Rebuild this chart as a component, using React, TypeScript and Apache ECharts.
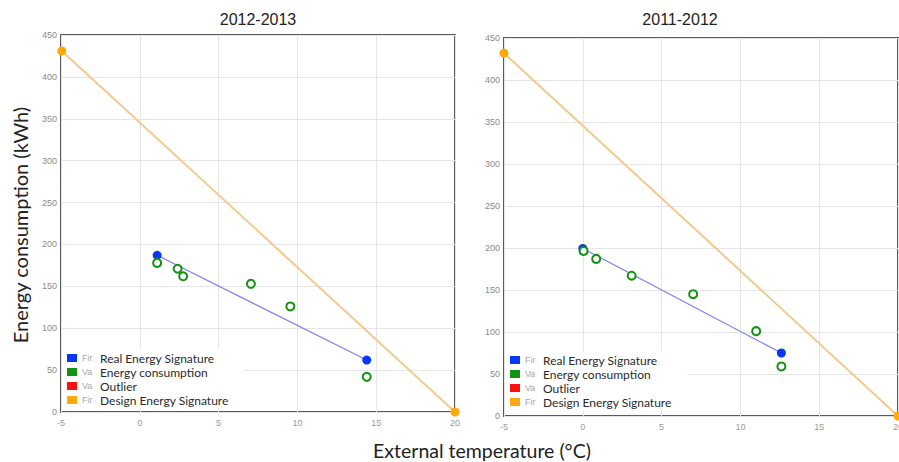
import React, { useEffect, useRef } from "react";
import * as echarts from "echarts";

const xTicks = [-5, 0, 5, 10, 15, 20];
const titles = ["2012-2013", "2011-2012"];
const seriesNames = ["Real Energy Signature", "Energy consumption", "Outlier", "Design Energy Signature"];
const legendStubs = ["Fir", "Va", "Va", "Fir"];

// 2012-2013
const realSig1: [number, number][] = [[1.1, 187], [14.4, 62]];
const consumption1: [number, number][] = [[1.1, 178], [2.4, 171], [2.75, 162], [7.05, 153], [9.55, 126], [14.4, 42]];
const designSig1: [number, number][] = [[-4.95, 431], [20, 0]];

// 2011-2012
const realSig2: [number, number][] = [[0.0, 199.5], [12.6, 75]];
const consumption2: [number, number][] = [[0.05, 196.5], [0.85, 187], [3.1, 167], [7.0, 145], [11.0, 101], [12.6, 59]];
const designSig2: [number, number][] = [[-5, 432], [20, 0]];

const outlier1: [number, number][] = [];
const outlier2: [number, number][] = [];

const colors = ["#0a36f5", "#129112", "#ff1010", "#ffa90a"];

export default function App() {
  const ref = useRef<HTMLDivElement>(null);
  useEffect(() => {
    if (!ref.current) return;
    const chart = echarts.init(ref.current, null, { renderer: "svg" });
    const grids = [
      { left: 61, top: 35, width: 394, height: 377 },
      { left: 504, top: 38, width: 394, height: 378 },
    ];
    const xAxis = grids.map((_, i) => ({
      type: "value",
      gridIndex: i,
      min: xTicks[0],
      max: xTicks[xTicks.length - 1],
      interval: 5,
      axisLine: { show: false },
      axisTick: { show: false },
      splitLine: { show: true, lineStyle: { color: "#e6e6e6", width: 1 } },
      axisLabel: { fontSize: 9, color: "#9a9a9a", margin: 6, fontFamily: "Liberation Sans", hideOverlap: false },
    }));
    const yAxis = grids.map((_, i) => ({
      type: "value",
      gridIndex: i,
      min: 0,
      max: 450,
      interval: 50,
      axisLine: { show: false },
      axisTick: { show: false },
      splitLine: { show: true, lineStyle: { color: "#e6e6e6", width: 1 } },
      axisLabel: { fontSize: 9, color: "#8a8a8a", margin: 4, fontFamily: "Liberation Sans" },
    }));
    const data = [
      [realSig1, consumption1, outlier1, designSig1],
      [realSig2, consumption2, outlier2, designSig2],
    ];
    const series: any[] = [];
    data.forEach((d, i) => {
      series.push({
        name: seriesNames[3],
        type: "line",
        xAxisIndex: i,
        yAxisIndex: i,
        data: d[3],
        symbol: "circle",
        symbolSize: 9,
        color: colors[3],
        lineStyle: { color: "#f2c98e", width: 2 },
        itemStyle: { color: colors[3] },
        z: 2,
      });
      series.push({
        name: seriesNames[0],
        type: "line",
        xAxisIndex: i,
        yAxisIndex: i,
        data: d[0],
        symbol: "circle",
        symbolSize: 9,
        color: colors[0],
        lineStyle: { color: "#8080f0", width: 1.2 },
        itemStyle: { color: colors[0] },
        z: 3,
      });
      series.push({
        name: seriesNames[1],
        type: "scatter",
        xAxisIndex: i,
        yAxisIndex: i,
        data: d[1],
        symbol: "emptyCircle",
        symbolSize: 8,
        color: colors[1],
        itemStyle: { color: colors[1], borderWidth: 2, borderColor: colors[1], opacity: 1 },
        z: 4,
      });
      series.push({
        name: seriesNames[2],
        type: "scatter",
        xAxisIndex: i,
        yAxisIndex: i,
        data: d[2],
        color: colors[2],
        itemStyle: { color: colors[2], opacity: 1 },
      });
    });
    const legendData = seriesNames.map((n, k) => ({ name: n, itemStyle: { color: colors[k], borderWidth: 0, opacity: 1 } }));
    const mkLegend = (left: number, top: number, width: number) => ({
      orient: "vertical",
      left,
      top,
      width,
      data: legendData,
      icon: "rect",
      itemWidth: 10,
      itemHeight: 8,
      itemGap: 2,
      padding: [3, 16, 2, 4],
      backgroundColor: "#ffffff",
      selectedMode: false,
      formatter: (name: string) => {
        const k = seriesNames.indexOf(name);
        return "{s|" + legendStubs[k] + "}{t|" + name + "}";
      },
      textStyle: {
        rich: {
          s: { fontSize: 9, color: "#a8a8a8", width: 18, fontFamily: "Liberation Sans", lineHeight: 13 },
          t: { fontSize: 12, color: "#2a2a2a", fontFamily: "Lato", lineHeight: 13 },
        },
      },
    });
    chart.setOption({
      animation: false,
      backgroundColor: "#ffffff",
      grid: grids.map((g) => ({
        ...g,
        show: true,
        borderColor: "#5a5a5a",
        borderWidth: 2,
        backgroundColor: "transparent",
        containLabel: false,
        outerBoundsMode: "none",
      })),
      xAxis,
      yAxis,
      series,
      legend: [mkLegend(63, 349, 170), mkLegend(506, 351, 175)],
      graphic: [
        { type: "text", x: 258, y: 11, style: { text: titles[0], fontSize: 16, fill: "#222", fontFamily: "Liberation Sans", textAlign: "center" } },
        { type: "text", x: 680, y: 11, style: { text: titles[1], fontSize: 16, fill: "#222", fontFamily: "Liberation Sans", textAlign: "center" } },
        {
          type: "text",
          x: 20,
          y: 225,
          rotation: Math.PI / 2,
          style: { text: "Energy consumption (kWh)", fontSize: 20, fill: "#222", fontFamily: "Lato", textAlign: "center", textVerticalAlign: "middle" },
        },
        {
          type: "text",
          x: 482,
          y: 450,
          style: { text: "External temperature (°C)", fontSize: 19.5, fill: "#222", fontFamily: "Lato", textAlign: "center", textVerticalAlign: "middle" },
        },
      ],
    });
    return () => chart.dispose();
  }, []);
  return <div ref={ref} style={{ position: "fixed", left: 0, top: 0, width: 899, height: 462 }} />;
}
